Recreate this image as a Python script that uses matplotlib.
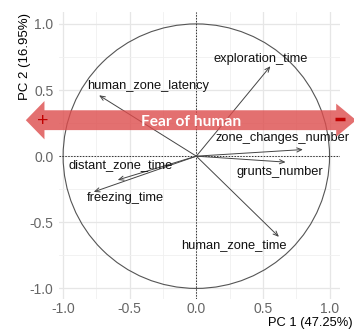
import numpy as np
import matplotlib.pyplot as plt
from matplotlib.patches import Circle, Polygon

plt.rcParams['font.family'] = ['Liberation Sans', 'DejaVu Sans']

# ---------------- Variable loadings on PC1 / PC2 ----------------
var_names = ["exploration_time", "human_zone_latency", "zone_changes_number",
             "grunts_number", "human_zone_time", "distant_zone_time", "freezing_time"]
pc1 = [0.556, -0.73, 0.80, 0.67, 0.62, -0.59, -0.77]
pc2 = [0.68, 0.46, 0.05, -0.045, -0.61, -0.18, -0.27]

# label anchor points (data units)
lab_x = [0.48, -0.36, 0.645, 0.63, 0.28, -0.57, -0.53]
lab_y = [0.735, 0.53, 0.136, -0.12, -0.67, -0.07, -0.32]

ticks = [-1.0, -0.5, 0.0, 0.5, 1.0]
tick_labels = ["-1.0", "-0.5", "0.0", "0.5", "1.0"]
xlab = "PC 1 (47.25%)"
ylab = "PC 2 (16.95%)"

# "Fear of human" band across the plot
band_y = 0.272
band_text = "Fear of human"

fig = plt.figure(figsize=(3.54, 3.31), dpi=100)
ax = fig.add_axes([0.167, 0.0967, 0.794, 0.867])
ax.set_xlim(-1.03, 1.08)
ax.set_ylim(-1.08, 1.09)

# theme_minimal-like grid
ax.set_xticks(ticks)
ax.set_yticks(ticks)
ax.set_xticks([-0.75, -0.25, 0.25, 0.75], minor=True)
ax.set_yticks([-0.75, -0.25, 0.25, 0.75], minor=True)
ax.set_xticklabels(tick_labels)
ax.set_yticklabels(tick_labels)
ax.grid(True, which="major", color="#e6e6e6", lw=0.9)
ax.grid(True, which="minor", color="#f0f0f0", lw=0.6)
ax.set_axisbelow(True)
for s in ax.spines.values():
    s.set_visible(False)
ax.tick_params(which="both", length=0, colors="#666666", labelsize=10)
ax.tick_params(axis="y", pad=4)
ax.tick_params(axis="x", pad=2)

# correlation circle and reference lines
ax.add_patch(Circle((0, 0), 1.0, fill=False, ec="#555555", lw=0.8))
ax.axhline(0, color="#333333", lw=0.7, ls=(0, (1.5, 1.5)))
ax.axvline(0, color="#333333", lw=0.7, ls=(0, (1.5, 1.5)))

# variable arrows
for x, y in zip(pc1, pc2):
    ax.annotate("", xy=(x, y), xytext=(0, 0),
                arrowprops=dict(arrowstyle="->,head_length=0.35,head_width=0.15",
                                color="#444444", lw=0.7, shrinkA=0, shrinkB=0),
                zorder=4)
for name, x, y in zip(var_names, lab_x, lab_y):
    ax.text(x, y, name, fontsize=9.3, color="#111111", ha="center", va="center", zorder=5)

# band arrow, semi-transparent over the loadings
hw_body, hw_left, hw_right = 0.075, 0.145, 0.125
band = Polygon([(-1.28, band_y), (-1.14, band_y + hw_left), (-1.14, band_y + hw_body),
                (1.05, band_y + hw_body), (1.05, band_y + hw_right), (1.20, band_y),
                (1.05, band_y - hw_right), (1.05, band_y - hw_body),
                (-1.14, band_y - hw_body), (-1.14, band_y - hw_left)],
               closed=True, fc="#dd4c4c", ec="none", alpha=0.8, clip_on=False, zorder=6)
ax.add_patch(band)
ax.text(-0.04, band_y - 0.01, band_text, color="white", fontsize=11.2,
        fontweight="bold", family=["Lato", "DejaVu Sans"], ha="center", va="center", zorder=7)
ax.text(-1.15, band_y - 0.01, "+", color="#c00000", fontsize=14, ha="center",
        va="center", zorder=7, clip_on=False)
ax.plot([1.04, 1.115], [band_y + 0.01, band_y + 0.01], color="#c00000", lw=2.5,
        solid_capstyle="butt", clip_on=False, zorder=7)

fig.text(353 / 354, 0.005, xlab, ha="right", va="bottom", fontsize=9.3)
fig.text(25 / 354, 0.83, ylab, ha="center", va="center", rotation=90, fontsize=9.5)

fig.savefig("out.png", dpi=100, facecolor="white")
